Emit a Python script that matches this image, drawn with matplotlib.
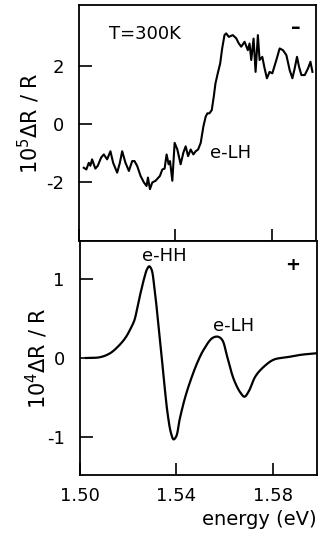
import matplotlib
matplotlib.use("Agg")
import matplotlib.pyplot as plt
import numpy as np

plt.rcParams['axes.unicode_minus'] = False

# Top panel (T=300K, noisy)
px_top = [84.7, 87.3, 89.7, 91.3, 93, 94.7, 96.3, 98.7, 102, 104.7, 108, 111.3, 114, 118,
          120.7, 123, 126.3, 129.7, 133, 135.3, 138, 141.3, 144.7, 147.3, 148.7, 150.7, 153,
          156.3, 160.7, 163, 165.3, 167.3, 169.3, 170.7, 173, 175.3, 178, 181.3, 184, 186.3,
          188.7, 191.3, 194, 196.3, 198.7, 201.3, 204, 206.3, 208, 210, 212.3, 214.3, 216,
          218.3, 220.7, 222.7, 225, 226.7, 229.3, 233.3, 236.7, 239.3, 241.7, 245, 248.3, 250,
          251.7, 254, 256, 258.3, 260, 262.7, 265, 267.3, 270, 272.7, 276.7, 280, 283.3, 286.7,
          290, 292.7, 295, 297.3, 299.3, 301.7, 305, 308.3, 310.7, 312.7]
top_vals = [-1.52, -1.58, -1.35, -1.45, -1.23, -1.40, -1.55, -1.45, -1.17, -1.06, -1.23, -0.95,
            -1.35, -1.69, -1.35, -0.95, -1.35, -1.63, -1.29, -1.29, -1.46, -1.80, -2.03, -2.15,
            -1.86, -2.26, -2.03, -1.97, -1.80, -1.58, -1.55, -1.06, -1.40, -1.29, -1.97, -0.66,
            -0.89, -1.40, -1.00, -0.78, -1.12, -0.89, -1.06, -0.95, -0.89, -0.66, -0.09, 0.25,
            0.36, 0.36, 0.47, 0.93, 1.39, 1.74, 2.08, 2.60, 3.06, 3.12, 3.00, 3.06, 2.95, 2.77,
            2.66, 2.83, 2.54, 2.77, 2.20, 2.94, 1.79, 3.06, 2.20, 2.31, 1.91, 1.57, 1.79, 1.74,
            2.20, 2.60, 2.54, 2.37, 1.85, 1.57, 1.91, 2.31, 1.97, 1.68, 1.68, 1.91, 2.14, 1.79]
top_energy = [1.50 + (p - 80) / 2400 for p in px_top]

# Bottom panel (smooth)
px_bot = [86, 100, 110, 118.3, 125, 130, 134.3, 137.3, 140.7, 144, 146.7, 149, 151.3, 154,
          157.3, 160.7, 164, 167.3, 170.7, 173.3, 176, 179.3, 185, 192, 198.3, 203.3, 211.7,
          217.3, 221.7, 226.7, 233.3, 240, 244, 248.3, 255, 263.3, 273.3, 286.7, 300, 316]
bot_vals = [0.0, 0.01, 0.06, 0.15, 0.25, 0.36, 0.48, 0.65, 0.84, 1.01, 1.12, 1.16, 1.12, 0.91,
            0.53, 0.11, -0.32, -0.70, -0.95, -1.03, -0.99, -0.78, -0.49, -0.22, -0.02, 0.105,
            0.25, 0.27, 0.23, 0.02, -0.27, -0.44, -0.49, -0.42, -0.23, -0.11, -0.02, 0.01,
            0.04, 0.06]
bot_energy = [1.50 + (p - 80) / 2400 for p in px_bot]

xticks = [1.50, 1.54, 1.58]
xticklabels = ["1.50", "1.54", "1.58"]
top_yticks = [-2, 0, 2]
bot_yticks = [-1, 0, 1]

tickfont = ['Liberation Sans Narrow', 'DejaVu Sans']
txtfont = ['DejaVu Sans']

fig = plt.figure(figsize=(3.2, 5.37), dpi=100)
ax1 = fig.add_axes([0.247, 0.5512, 0.741, 0.4395])
ax2 = fig.add_axes([0.25, 0.1155, 0.741, 0.4357])


def smooth(xs, ys, sx=2400.0, sy=79.0, alpha=0.5):
    # centripetal Catmull-Rom in (approximately) pixel space
    pts = np.column_stack([np.asarray(xs) * sx, np.asarray(ys) * sy])
    P = np.vstack([2 * pts[0] - pts[1], pts, 2 * pts[-1] - pts[-2]])
    out = []
    for i in range(1, len(P) - 2):
        p0, p1, p2, p3 = P[i-1], P[i], P[i+1], P[i+2]
        t0 = 0.0
        t1 = t0 + np.linalg.norm(p1 - p0) ** alpha
        t2 = t1 + np.linalg.norm(p2 - p1) ** alpha
        t3 = t2 + np.linalg.norm(p3 - p2) ** alpha
        t = np.linspace(t1, t2, 24, endpoint=False)[:, None]
        A1 = (t1 - t) / (t1 - t0) * p0 + (t - t0) / (t1 - t0) * p1
        A2 = (t2 - t) / (t2 - t1) * p1 + (t - t1) / (t2 - t1) * p2
        A3 = (t3 - t) / (t3 - t2) * p2 + (t - t2) / (t3 - t2) * p3
        B1 = (t2 - t) / (t2 - t0) * A1 + (t - t0) / (t2 - t0) * A2
        B2 = (t3 - t) / (t3 - t1) * A2 + (t - t1) / (t3 - t1) * A3
        C = (t2 - t) / (t2 - t1) * B1 + (t - t1) / (t2 - t1) * B2
        out.append(C)
    out.append(pts[-1][None, :])
    o = np.vstack(out)
    return o[:, 0] / sx, o[:, 1] / sy


ax1.plot(top_energy, top_vals, color='black', lw=1.5, solid_joinstyle='round')
cx, cy = smooth(bot_energy, bot_vals)
ax2.plot(cx, cy, color='black', lw=1.6)

for ax in (ax1, ax2):
    ax.set_xlim(1.50, 1.5985)
    for s in ax.spines.values():
        s.set_linewidth(1.3)
    ax.set_xticks(xticks)
    ax.tick_params(direction='in', length=9, width=1.2, top=False, right=False)

ax1.set_ylim(-4.05, 4.1)
ax1.set_yticks(top_yticks)
ax1.set_yticklabels([str(v) for v in top_yticks], family=tickfont, fontsize=13)
ax1.tick_params(axis='y', pad=11)
ax1.tick_params(axis='x', labelbottom=False)

ax2.set_ylim(-1.48, 1.48)
ax2.set_yticks(bot_yticks)
ax2.set_yticklabels([str(v) for v in bot_yticks], family=tickfont, fontsize=13)
ax2.tick_params(axis='y', pad=11)
ax2.set_xticklabels(xticklabels, family=tickfont, fontsize=13)
ax2.tick_params(axis='x', pad=9)

ax1.set_ylabel("10$^5$ΔR / R", fontsize=15, family=txtfont)
ax1.yaxis.set_label_coords(-0.155, 0.5)
ax2.set_ylabel("10$^4$ΔR / R", fontsize=15, family=txtfont)
ax2.yaxis.set_label_coords(-0.125, 0.5)

fig.text(0.988, 0.032, "energy (eV)", ha='right', va='center', fontsize=14, family=txtfont)

ax1.text(1.5125, 3.09, "T=300K", ha='left', va='center', fontsize=13, family=txtfont)
ax1.text(1.590, 3.33, "\u2013", ha='center', va='center', fontsize=14, fontweight='bold',
         family=txtfont)
ax1.text(1.5542, -1.02, "e-LH", ha='left', va='center', fontsize=13, family=txtfont)
ax2.text(1.535, 1.29, "e-HH", ha='center', va='center', fontsize=13, family=txtfont)
ax2.text(1.5883, 1.18, "+", ha='center', va='center', fontsize=13, fontweight='bold',
         family=txtfont)
ax2.text(1.5638, 0.40, "e-LH", ha='center', va='center', fontsize=13, family=txtfont)

fig.savefig("out.png", dpi=100)
